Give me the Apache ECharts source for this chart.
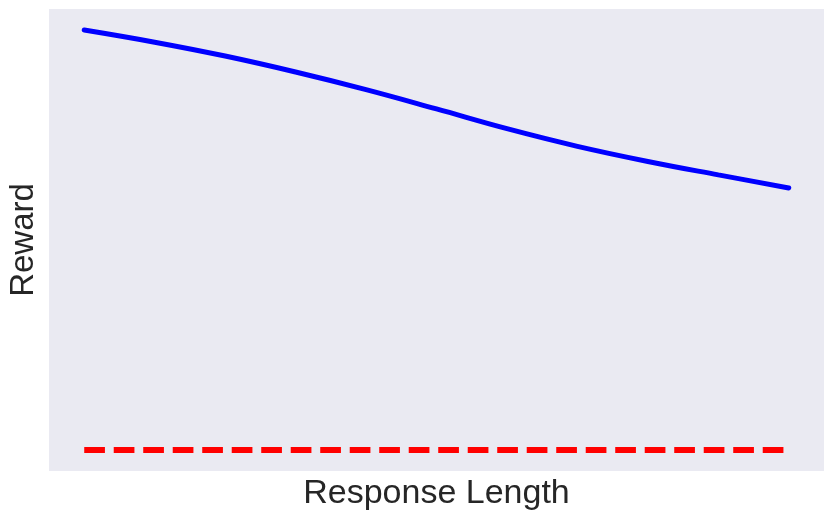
<!DOCTYPE html>
<html>
<head>
<meta charset="utf-8">
<script src="https://cdn.jsdelivr.net/npm/echarts@6/dist/echarts.min.js"></script>
<style>
  html, body { margin: 0; padding: 0; background: #fff; }
  #main { width: 833px; height: 520px; }
</style>
</head>
<body>
<div id="main"></div>
<script>
// response length (arbitrary units, no ticks shown)
var lengths = [0, 10, 20, 30, 40, 50, 60, 70, 80, 90, 100];
// reward of the model
var rewardModel = [1.000, 0.971, 0.938, 0.900, 0.858, 0.812, 0.765, 0.723, 0.687, 0.655, 0.624];
// baseline reward (flat)
var rewardBase = [0, 0, 0, 0, 0, 0, 0, 0, 0, 0, 0];

function pairs(xs, ys) {
  return xs.map(function (x, i) { return [x, ys[i]]; });
}

var chart = echarts.init(document.getElementById('main'));
var textColor = '#262626';
chart.setOption({
  animation: false,
  grid: {
    left: 49, right: 9, top: 9, bottom: 49,
    outerBoundsMode: 'none',
    containLabel: false,
    show: true,
    backgroundColor: '#EAEAF2',
    borderWidth: 0
  },
  xAxis: {
    type: 'value',
    min: -5, max: 105,
    name: 'Response Length',
    nameLocation: 'middle',
    nameGap: 6,
    nameTextStyle: { color: textColor, fontSize: 34, fontFamily: 'Liberation Sans', verticalAlign: 'top' },
    axisLine: { show: false },
    axisTick: { show: false },
    axisLabel: { show: false },
    splitLine: { show: false }
  },
  yAxis: {
    type: 'value',
    min: -0.05, max: 1.05,
    name: 'Reward',
    nameLocation: 'middle',
    nameGap: 9,
    nameRotate: 90,
    nameTextStyle: { color: textColor, fontSize: 33, fontFamily: 'Liberation Sans', verticalAlign: 'bottom' },
    axisLine: { show: false },
    axisTick: { show: false },
    axisLabel: { show: false },
    splitLine: { show: false }
  },
  series: [
    {
      type: 'line',
      data: pairs(lengths, rewardModel),
      smooth: 0.4,
      symbol: 'none',
      lineStyle: { color: '#0000FF', width: 5, cap: 'round' }
    },
    {
      type: 'line',
      data: pairs(lengths, rewardBase),
      symbol: 'none',
      lineStyle: { color: '#FF0000', width: 6, type: [20.7, 8.8], cap: 'butt' }
    }
  ]
});
</script>
</body>
</html>
